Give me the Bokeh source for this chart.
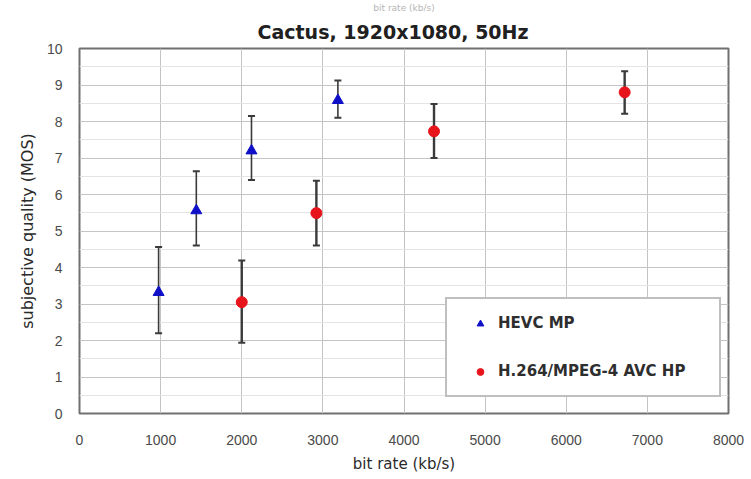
from bokeh.plotting import figure
from bokeh.models import (ColumnDataSource, Whisker, TeeHead, Legend, LegendItem,
                          FixedTicker, Range1d, Title)
from bokeh.embed import file_html
from bokeh.resources import INLINE

# ---- data ----
hevc_rate = [975, 1440, 2120, 3185]
hevc_mos = [3.32, 5.56, 7.2, 8.58]
hevc_lo = [2.2, 4.6, 6.4, 8.1]
hevc_hi = [4.56, 6.64, 8.15, 9.12]

avc_rate = [2000, 2920, 4370, 6720]
avc_mos = [3.05, 5.49, 7.73, 8.8]
avc_lo = [1.94, 4.6, 7.0, 8.21]
avc_hi = [4.19, 6.38, 8.48, 9.38]

x_ticks = [0, 1000, 2000, 3000, 4000, 5000, 6000, 7000, 8000]
y_ticks = [0, 1, 2, 3, 4, 5, 6, 7, 8, 9, 10]
y_minor = [0.5, 1.5, 2.5, 3.5, 4.5, 5.5, 6.5, 7.5, 8.5, 9.5]

title_text = "Cactus, 1920x1080, 50Hz"
top_fragment = "bit rate (kb/s)"
x_label = "bit rate (kb/s)"
y_label = "subjective quality (MOS)"
series_names = ["HEVC MP", "H.264/MPEG-4 AVC HP"]

FONT = "DejaVu Sans"

# frame: left 79, right 728, top 48, bottom 413 (canvas pixels)
p = figure(width=751, height=479, frame_width=649, frame_height=365,
           min_border_left=79, min_border_right=23, min_border_top=48, min_border_bottom=66,
           x_range=Range1d(0, 8000), y_range=Range1d(0, 10),
           title_location=None,
           output_backend="svg", toolbar_location=None)
p.background_fill_color = "white"
p.border_fill_color = "white"
p.outline_line_color = "#707070"
p.outline_line_width = 2

# grids
p.xgrid.ticker = FixedTicker(ticks=x_ticks)
p.ygrid.ticker = FixedTicker(ticks=y_ticks, minor_ticks=y_minor)
p.xgrid.grid_line_color = "#c4c4c4"
p.ygrid.grid_line_color = "#c4c4c4"
p.ygrid.minor_grid_line_color = "#e4e4e4"

# axes
for ax in (p.xaxis[0], p.yaxis[0]):
    ax.axis_line_color = None
    ax.major_tick_line_color = None
    ax.minor_tick_line_color = None
    ax.major_label_text_font = "Liberation Sans"
    ax.major_label_text_font_size = "14px"
    ax.major_label_text_color = "#4a4a4a"
    ax.axis_label_text_font = FONT
    ax.axis_label_text_font_style = "normal"
    ax.axis_label_text_color = "#2a2a2a"
p.xaxis.ticker = FixedTicker(ticks=x_ticks)
p.yaxis.ticker = FixedTicker(ticks=y_ticks)
p.xaxis.major_label_standoff = 15
p.yaxis.major_label_standoff = 11
p.xaxis.axis_label = x_label
p.xaxis.axis_label_text_font_size = "15px"
p.xaxis.axis_label_standoff = 7
p.yaxis.axis_label = y_label
p.yaxis.axis_label_text_font_size = "16px"
p.yaxis.axis_label_standoff = 7

src_h = ColumnDataSource(dict(x=hevc_rate, y=hevc_mos, lo=hevc_lo, hi=hevc_hi))
src_a = ColumnDataSource(dict(x=avc_rate, y=avc_mos, lo=avc_lo, hi=avc_hi))

for src, w in ((src_h, 1.6), (src_a, 2.4)):
    wk = Whisker(source=src, base="x", lower="lo", upper="hi",
                 line_color="#3a3a3a", line_width=w,
                 upper_head=TeeHead(size=7, line_color="#3a3a3a", line_width=2),
                 lower_head=TeeHead(size=7, line_color="#3a3a3a", line_width=2))
    p.add_layout(wk)

r1 = p.scatter("x", "y", source=src_h, marker="triangle", size=11,
               fill_color="#1010c8", line_color="#1010c8")
r2 = p.scatter("x", "y", source=src_a, marker="circle", size=11,
               fill_color="#e8141c", line_color="#e8141c")

legend = Legend(items=[LegendItem(label=series_names[0], renderers=[r1]),
                       LegendItem(label=series_names[1], renderers=[r2])],
                location=(366, 16), spacing=30, padding=15, margin=0,
                glyph_width=36, glyph_height=17, label_height=17, label_standoff=0,
                label_width=206,
                label_text_font=FONT, label_text_font_size="15px",
                label_text_font_style="bold",
                label_text_color="#2e2e2e",
                border_line_color="#808080", border_line_width=2,
                background_fill_color="white", background_fill_alpha=1)
p.add_layout(legend, "center")

# titles (first added sits next to the frame)
p.add_layout(Title(text=title_text, align="left", standoff=12, offset=178,
                   text_font=FONT, text_font_size="19px", text_font_style="bold",
                   text_line_height=1.0, text_color="#202020"), "above")
p.add_layout(Title(text=top_fragment, align="center", standoff=0,
                   text_font=FONT, text_font_size="9px", text_font_style="normal",
                   text_line_height=1.0, text_color="#b4b4b4"), "above")

open("out.html", "w").write(file_html(p, INLINE))
